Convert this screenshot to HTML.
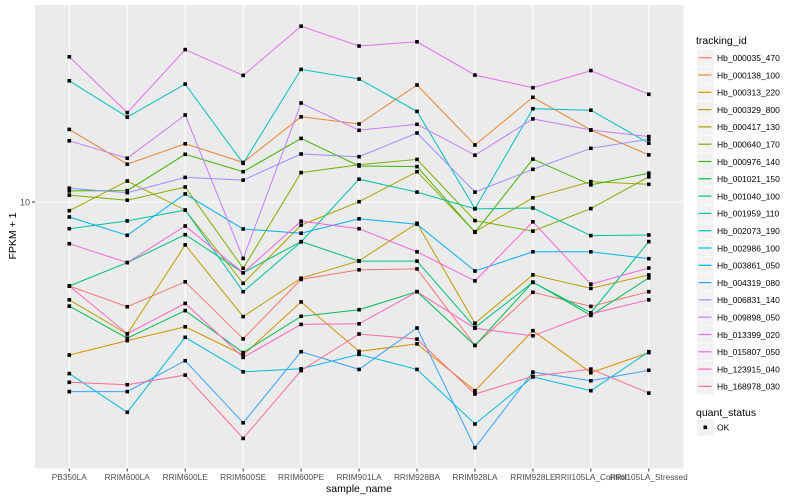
<!DOCTYPE html>
<html><head><meta charset="utf-8"><style>
body{margin:0;background:#fff;}
svg{display:block;font-family:"Liberation Sans",sans-serif;}
</style></head><body>
<svg id="chart" width="800" height="500">
<rect x="0" y="0" width="800" height="500" fill="#fff"/>
<rect x="35" y="5" width="648.5" height="463.5" fill="#EBEBEB"/>
<g id="grid"></g><g id="series"></g><g id="axes"></g><g id="legend"></g>
</svg>
<script>
const categories=["PB350LA","RRIM600LA","RRIM600LE","RRIM600SE","RRIM600PE","RRIM901LA","RRIM928BA","RRIM928LA","RRIM928LE","RRII105LA_Control","RRII105LA_Stressed"];
const trackingIds=["Hb_000035_470","Hb_000138_100","Hb_000313_220","Hb_000329_800","Hb_000417_130","Hb_000640_170","Hb_000976_140","Hb_001021_150","Hb_001040_100","Hb_001959_110","Hb_002073_190","Hb_002986_100","Hb_003861_050","Hb_004319_080","Hb_006831_140","Hb_009898_050","Hb_013399_020","Hb_015807_050","Hb_123915_040","Hb_168978_030"];
const colors=["#F8766D","#EA8331","#D89000","#C09B00","#A3A500","#7CAE00","#39B600","#00BB4E","#00BF7D","#00C1A3","#00BFC4","#00BAE0","#00B0F6","#35A2FF","#9590FF","#C77CFF","#E76BF3","#FA62DB","#FF62BC","#FF6C91"];
// log10(FPKM + 1) per tracking id
const s000035=[0.720,0.651,0.734,0.544,0.742,0.774,0.777,0.522,0.699,0.652,0.701];
const s000138=[1.242,1.126,1.194,1.132,1.284,1.260,1.390,1.190,1.349,1.240,1.157];
const s000313=[0.490,0.538,0.584,0.490,0.667,0.502,0.527,0.371,0.571,0.431,0.498];
const s000329=[0.674,0.560,0.857,0.618,0.746,0.804,0.929,0.596,0.757,0.712,0.757];
const s000417=[0.971,1.070,0.973,0.729,0.923,1.001,1.101,0.901,1.014,1.068,1.059];
const s000640=[1.023,1.006,1.050,0.779,1.098,1.124,1.142,0.938,0.903,0.978,1.084];
const s000976=[1.037,1.038,1.159,1.101,1.212,1.120,1.118,0.899,1.143,1.057,1.096];
const s001021=[0.653,0.546,0.638,0.498,0.619,0.641,0.701,0.522,0.733,0.622,0.747];
const s001040=[0.720,0.798,0.891,0.764,0.868,0.803,0.803,0.582,0.732,0.631,0.868];
const s001959=[0.911,0.937,0.973,0.701,0.867,1.076,1.033,0.977,0.980,0.888,0.890];
const s002073=[1.404,1.283,1.393,1.129,1.442,1.410,1.302,0.978,1.311,1.306,1.196];
const s002986=[0.428,0.299,0.549,0.434,0.444,0.492,0.442,0.260,0.417,0.371,0.501];
const s003861=[0.950,0.889,1.027,0.910,0.896,0.944,0.926,0.770,0.834,0.834,0.811];
const s004319=[0.368,0.368,0.471,0.264,0.501,0.442,0.580,0.181,0.433,0.404,0.439];
const s006831=[1.046,1.031,1.082,1.073,1.160,1.151,1.230,1.033,1.109,1.179,1.209];
const s009898=[1.204,1.146,1.290,0.812,1.330,1.239,1.259,1.156,1.277,1.240,1.218];
const s013399=[1.484,1.298,1.508,1.422,1.586,1.520,1.534,1.423,1.381,1.438,1.359];
const s015807=[0.861,0.798,0.920,0.764,0.936,0.911,0.834,0.737,0.934,0.726,0.780];
const s123915=[0.720,0.561,0.662,0.482,0.592,0.594,0.701,0.579,0.554,0.627,0.674];
const s168978=[0.399,0.391,0.423,0.212,0.438,0.560,0.543,0.360,0.419,0.443,0.363];
const yTickValues=[1];
const yTickLabels=["10"];

const allSeries=[s000035,s000138,s000313,s000329,s000417,s000640,s000976,s001021,s001040,s001959,s002073,s002986,s003861,s004319,s006831,s009898,s013399,s015807,s123915,s168978];
const NS="http://www.w3.org/2000/svg";
const x0=69.3, dx=57.95;
function xScale(i){return x0+i*dx;}
function yScale(v){return 202-(v-1)*300;}
function mk(tag,attrs,parent){const e=document.createElementNS(NS,tag);for(const k in attrs)e.setAttribute(k,attrs[k]);parent.appendChild(e);return e;}
const grid=document.getElementById('grid'),ser=document.getElementById('series'),axes=document.getElementById('axes'),leg=document.getElementById('legend');
yTickValues.forEach((v,i)=>{
  const l=mk('line',{x1:35,x2:683.5,y1:yScale(v),y2:yScale(v),stroke:'#fff','stroke-width':1.1},grid);
  
  
  const t=mk('line',{x1:32,x2:35,y1:yScale(v),y2:yScale(v),stroke:'#333','stroke-width':1},axes);
  
  
  const tx=mk('text',{x:30,y:yScale(v)+3.5,'text-anchor':'end','font-size':9,fill:'#4D4D4D'},axes);
  tx.textContent=yTickLabels[i];
  
  
});
categories.forEach((c,i)=>{
  const l=mk('line',{x1:xScale(i),x2:xScale(i),y1:5,y2:468.5,stroke:'#fff','stroke-width':1.1},grid);
  
  
  const t=mk('line',{x1:xScale(i),x2:xScale(i),y1:468.5,y2:471.5,stroke:'#333','stroke-width':1},axes);
  
  
  const tx=mk('text',{x:xScale(i),y:480,'text-anchor':'middle','font-size':8.3,fill:'#4D4D4D'},axes);
  tx.textContent=c;
  
  
});
allSeries.forEach((s,k)=>{
  const pts=s.map((v,i)=>xScale(i).toFixed(1)+','+yScale(v).toFixed(1)).join(' ');
  const p=mk('polyline',{points:pts,fill:'none',stroke:colors[k],'stroke-width':1},ser);
  
  
});
allSeries.forEach((s,k)=>{
  s.forEach((v,i)=>{
    const r=mk('rect',{x:xScale(i)-1.8,y:yScale(v)-1.8,width:3.6,height:3.6,fill:'#000'},ser);
    
    
  });
});
const xt=mk('text',{x:359,y:492,'text-anchor':'middle','font-size':10.5,fill:'#000'},axes);
xt.textContent='sample_name';


const yt=mk('text',{x:0,y:0,'text-anchor':'middle','font-size':10.5,fill:'#000',transform:'translate(16,236) rotate(-90)'},axes);
yt.textContent='FPKM + 1';


const lt=mk('text',{x:696,y:44,'font-size':10.5,fill:'#000'},leg);
lt.textContent='tracking_id';


trackingIds.forEach((id,k)=>{
  const cy=57.7+k*17.3;
  const g=mk('g',{},leg);
  
  
  mk('rect',{x:697,y:cy-8.3,width:16.6,height:16.6,fill:'#F2F2F2'},g);
  mk('line',{x1:698.5,x2:711.5,y1:cy,y2:cy,stroke:colors[k],'stroke-width':1.2},g);
  const t=mk('text',{x:717,y:cy+3.3,'font-size':8.5,fill:'#000'},g);
  t.textContent=id;
});
const qt=mk('text',{x:696,y:416,'font-size':10.5,fill:'#000'},leg);
qt.textContent='quant_status';


const og=mk('g',{},leg);


mk('rect',{x:697,y:419,width:16.6,height:16.6,fill:'#F2F2F2'},og);
mk('rect',{x:703.5,y:425.5,width:3.6,height:3.6,fill:'#000'},og);
const ot=mk('text',{x:717,y:430.5,'font-size':8.5,fill:'#000'},og);
ot.textContent='OK';
</script>
</body></html>
